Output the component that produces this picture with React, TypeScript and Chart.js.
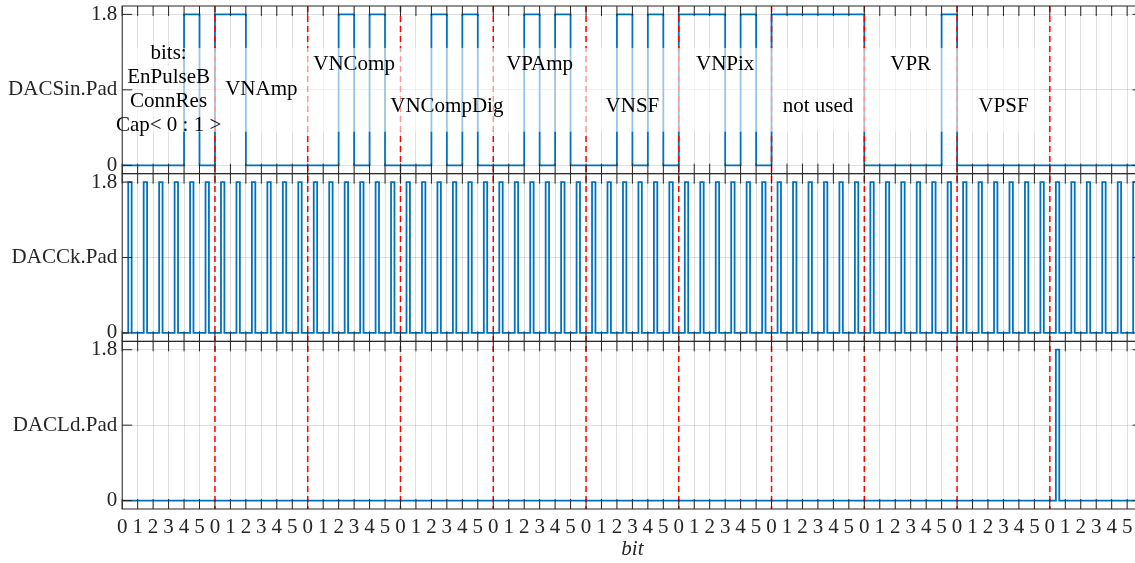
import React, { useEffect, useRef } from "react";
import { Chart, registerables } from "chart.js";

Chart.register(...registerables);

// ---------- data ----------
const BIT_LABELS = ["0", "1", "2", "3", "4", "5"];
const SIGNAL_NAMES = ["DACSin.Pad", "DACCk.Pad", "DACLd.Pad"];
const Y_TICKS = [0, 0.9, 1.8];
const Y_TICK_LABELS = ["0", "", "1.8"];

// DACSin level (V) for each bit slot
const DAC_SIN = [
  0, 0, 0, 0, 1.8, 0,
  1.8, 1.8, 0, 0, 0, 0,
  0, 0, 1.8, 0, 1.8, 0,
  0, 0, 1.8, 0, 1.8, 0,
  0, 0, 1.8, 0, 1.8, 0,
  0, 0, 1.8, 0, 1.8, 0,
  1.8, 1.8, 1.8, 0, 1.8, 0,
  1.8, 1.8, 1.8, 1.8, 1.8, 1.8,
  0, 0, 0, 0, 0, 1.8,
  0, 0, 0, 0, 0, 0,
  0, 0, 0, 0, 0, 0,
];
// DACCk pulse level (V) for each bit slot
const DAC_CK = [
  1.8, 1.8, 1.8, 1.8, 1.8, 1.8,
  1.8, 1.8, 1.8, 1.8, 1.8, 1.8,
  1.8, 1.8, 1.8, 1.8, 1.8, 1.8,
  1.8, 1.8, 1.8, 1.8, 1.8, 1.8,
  1.8, 1.8, 1.8, 1.8, 1.8, 1.8,
  1.8, 1.8, 1.8, 1.8, 1.8, 1.8,
  1.8, 1.8, 1.8, 1.8, 1.8, 1.8,
  1.8, 1.8, 1.8, 1.8, 1.8, 1.8,
  1.8, 1.8, 1.8, 1.8, 1.8, 1.8,
  1.8, 1.8, 1.8, 1.8, 1.8, 1.8,
  1.8, 1.8, 1.8, 1.8, 1.8, 1.8,
];
// DACLd pulse level (V) for each bit slot
const DAC_LD = [
  0, 0, 0, 0, 0, 0,
  0, 0, 0, 0, 0, 0,
  0, 0, 0, 0, 0, 0,
  0, 0, 0, 0, 0, 0,
  0, 0, 0, 0, 0, 0,
  0, 0, 0, 0, 0, 0,
  0, 0, 0, 0, 0, 0,
  0, 0, 0, 0, 0, 0,
  0, 0, 0, 0, 0, 0,
  0, 0, 0, 0, 0, 0,
  1.8, 0, 0, 0, 0, 0,
];
// pulse window inside a bit slot (fraction of a bit)
const PULSE_RISE = 0.39;
const PULSE_FALL = 0.61;

const GROUP_BOUNDS = [6, 12, 18, 24, 30, 36, 42, 48, 54, 60];

const ANN_TEXT = [
  "bits:\nEnPulseB\nConnRes\nCap< 0 : 1 >",
  "VNAmp",
  "VNComp",
  "VNCompDig",
  "VPAmp",
  "VNSF",
  "VNPix",
  "not used",
  "VPR",
  "VPSF",
];
const ANN_X = [3, 9, 15, 21, 27, 33, 39, 45, 51, 57];
const ANN_Y = [0.9, 0.9, 1.2, 0.7, 1.2, 0.7, 1.2, 0.7, 1.2, 0.7];

// shaded (faded) band behind labels, in data units of the top panel
const BAND_X = [0, 59.5];
const BAND_Y = [0.4, 1.4];

const X_MIN = 0;
const X_MAX = 66;
const Y_MIN = -0.1;
const Y_MAX = 1.9;

// ---------- styles ----------
const FONT_FAMILY = "'Liberation Serif', 'Times New Roman', serif";
const FONT_SIZE = 21;
const BLUE = "#0072BD";
const AXIS_COLOR = "#262626";
const GRID_COLOR = "rgba(38,38,38,0.15)";
const TICK_LEN = 10;

function levelPoints(levels: number[]) {
  const pts = levels.map((v, i) => ({ x: i, y: v }));
  pts.push({ x: levels.length, y: levels[levels.length - 1] });
  return pts;
}

function pulsePoints(levels: number[]) {
  const pts: { x: number; y: number }[] = [];
  levels.forEach((v, i) => {
    pts.push({ x: i, y: 0 });
    pts.push({ x: i + PULSE_RISE, y: v });
    pts.push({ x: i + PULSE_FALL, y: 0 });
  });
  pts.push({ x: levels.length, y: 0 });
  return pts;
}

const decorPlugin = {
  id: "decor",
  afterDatasetsDraw(chart: any) {
    const ctx = chart.ctx as CanvasRenderingContext2D;
    const area = chart.chartArea;
    const xs = chart.scales.x;
    const yIds = ["ySin", "yCk", "yLd"];
    ctx.save();

    // red dashed group boundaries
    ctx.strokeStyle = "#ff0000";
    ctx.lineWidth = 1.5;
    ctx.setLineDash([6, 4]);
    GROUP_BOUNDS.forEach((b) => {
      const px = xs.getPixelForValue(b);
      ctx.beginPath();
      ctx.moveTo(px, area.top);
      ctx.lineTo(px, area.bottom);
      ctx.stroke();
    });
    ctx.setLineDash([]);

    // faded band in top panel
    const ys = chart.scales.ySin;
    const bx0 = xs.getPixelForValue(BAND_X[0]);
    const bx1 = xs.getPixelForValue(BAND_X[1]);
    const by0 = ys.getPixelForValue(BAND_Y[1]);
    const by1 = ys.getPixelForValue(BAND_Y[0]);
    ctx.fillStyle = "rgba(255,255,255,0.6)";
    ctx.fillRect(bx0, by0, bx1 - bx0, by1 - by0);

    // boxes and inward ticks
    ctx.strokeStyle = AXIS_COLOR;
    ctx.lineWidth = 1;
    yIds.forEach((id) => {
      const s = chart.scales[id];
      const top = s.top;
      const bottom = s.bottom;
      ctx.strokeRect(area.left, top, area.right - area.left, bottom - top);
      ctx.beginPath();
      for (let i = 0; i < DAC_SIN.length; i++) {
        const px = xs.getPixelForValue(i);
        ctx.moveTo(px, top);
        ctx.lineTo(px, top + TICK_LEN);
        ctx.moveTo(px, bottom - TICK_LEN);
        ctx.lineTo(px, bottom);
      }
      Y_TICKS.forEach((v) => {
        const py = s.getPixelForValue(v);
        ctx.moveTo(area.left, py);
        ctx.lineTo(area.left + TICK_LEN, py);
        ctx.moveTo(area.right - TICK_LEN, py);
        ctx.lineTo(area.right, py);
      });
      ctx.stroke();
    });

    // annotation texts
    ctx.fillStyle = "#000";
    ctx.font = `${FONT_SIZE}px ${FONT_FAMILY}`;
    ctx.textAlign = "center";
    ctx.textBaseline = "middle";
    const lineGap = 24;
    ANN_TEXT.forEach((t, i) => {
      const lines = t.split("\n");
      const cx = xs.getPixelForValue(ANN_X[i]);
      const cy = ys.getPixelForValue(ANN_Y[i]);
      const y0 = cy - ((lines.length - 1) * lineGap) / 2;
      lines.forEach((ln, k) => ctx.fillText(ln, cx, y0 + k * lineGap));
    });
    ctx.restore();
  },
};

function yScale(idx: number) {
  return {
    type: "linear",
    position: "left",
    stack: "signals",
    stackWeight: 1,
    min: Y_MIN,
    max: Y_MAX,
    afterBuildTicks: (s: any) => {
      s.ticks = Y_TICKS.map((v) => ({ value: v }));
    },
    afterFit: (s: any) => {
      s.width = 122.2;
      s.paddingTop = 0;
      s.paddingBottom = 0;
      s.paddingLeft = 0;
      s.paddingRight = 0;
    },
    ticks: {
      autoSkip: false,
      padding: 5,
      color: AXIS_COLOR,
      font: { family: FONT_FAMILY, size: FONT_SIZE },
      callback: (_v: any, i: number) => (i === 1 ? SIGNAL_NAMES[idx] : Y_TICK_LABELS[i]),
    },
    grid: { color: GRID_COLOR, drawTicks: false, lineWidth: 1 },
    border: { display: false },
  };
}

export default function App() {
  const ref = useRef<HTMLCanvasElement | null>(null);

  useEffect(() => {
    if (!ref.current) return;
    const chart = new Chart(ref.current, {
      type: "line",
      data: {
        datasets: [
          {
            data: levelPoints(DAC_SIN),
            yAxisID: "ySin",
            xAxisID: "x",
            borderColor: BLUE,
            borderWidth: 1.8,
            pointRadius: 0,
            stepped: true,
            fill: false,
          },
          {
            data: pulsePoints(DAC_CK),
            yAxisID: "yCk",
            xAxisID: "x",
            borderColor: BLUE,
            borderWidth: 1.8,
            pointRadius: 0,
            stepped: true,
            fill: false,
          },
          {
            data: pulsePoints(DAC_LD),
            yAxisID: "yLd",
            xAxisID: "x",
            borderColor: BLUE,
            borderWidth: 1.8,
            pointRadius: 0,
            stepped: true,
            fill: false,
          },
        ] as any,
      },
      options: {
        animation: false,
        responsive: false,
        maintainAspectRatio: false,
        devicePixelRatio: 1,
        layout: { padding: { left: 0, right: 7.4, top: 6, bottom: 0 } },
        plugins: { legend: { display: false }, tooltip: { enabled: false } },
        scales: {
          x: {
            type: "linear",
            position: "bottom",
            min: X_MIN,
            max: X_MAX,
            afterBuildTicks: (s: any) => {
              s.ticks = DAC_SIN.map((_v, i) => ({ value: i }));
            },
            afterFit: (s: any) => {
              s.height = 54;
              s.paddingLeft = 0;
              s.paddingRight = 0;
              s.paddingTop = 0;
              s.paddingBottom = 0;
            },
            ticks: {
              autoSkip: false,
              maxRotation: 0,
              minRotation: 0,
              padding: 6,
              color: AXIS_COLOR,
              font: { family: FONT_FAMILY, size: FONT_SIZE },
              callback: (_v: any, i: number) => BIT_LABELS[i % BIT_LABELS.length],
            },
            grid: { color: GRID_COLOR, drawTicks: false, lineWidth: 1 },
            border: { display: false },
            title: {
              display: true,
              text: "bit",
              color: AXIS_COLOR,
              font: { family: FONT_FAMILY, size: FONT_SIZE, style: "italic" },
              padding: { top: 0, bottom: 1 },
            },
          },
          yLd: yScale(2),
          yCk: yScale(1),
          ySin: yScale(0),
        } as any,
      },
      plugins: [decorPlugin],
    });
    return () => chart.destroy();
  }, []);

  return (
    <div
      style={{
        position: "absolute",
        left: 0,
        top: 0,
        width: 1135,
        height: 563,
        overflow: "hidden",
        background: "#fff",
      }}
    >
      <canvas ref={ref} width={1150} height={563} style={{ display: "block" }} />
    </div>
  );
}
